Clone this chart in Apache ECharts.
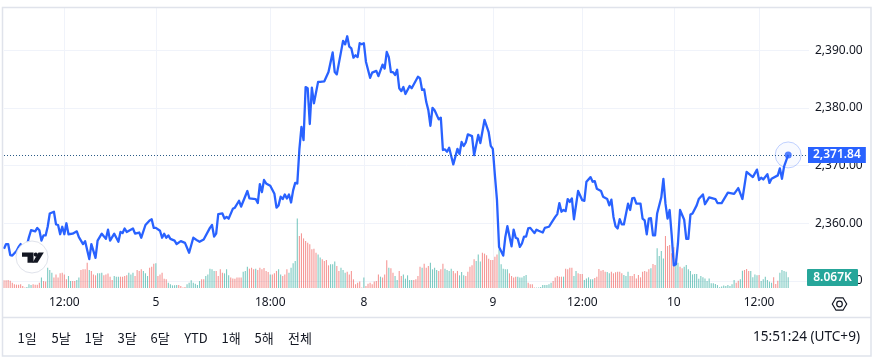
<!DOCTYPE html>
<html>
<head>
<meta charset="utf-8">
<style>
    html, body { margin: 0; padding: 0; background: #fff; }
    #chart { width: 877px; height: 362px; }
</style>
<script src="https://cdn.jsdelivr.net/npm/echarts@6/dist/echarts.min.js"></script>
</head>
<body>
<div id="chart"></div>
<script>
// price line: bar number + price at each visible turn of the line
const priceBars = [0,1,2,3,4,6,7,8,10,11,12,13,15,16,17,18,19,20,21,22,24,25,26,27,28,29,30,31,33,35,36,38,39,41,42,44,45,47,49,50,51,53,55,56,57,58,59,62,63,65,66,68,70,71,72,73,75,76,77,78,79,80,82,83,85,87,89,91,93,94,96,99,100,101,102,103,105,106,107,108,110,111,113,114,117,118,121,122,123,124,125,126,128,130,131,132,133,134,135,136,137,138,139,140,141,142,143,144,145,146,147,148,149,151,152,154,156,158,159,160,163,164,165,166,167,168,169,170,171,172,173,174,176,177,179,180,182,183,184,185,186,187,188,189,190,191,192,193,195,196,199,200,201,202,203,204,205,206,207,209,210,211,212,213,214,216,218,219,220,221,222,223,225,226,228,229,231,233,234,235,236,237,238,240,241,242,244,245,246,247,248,249,250,251,252,253,255,256,257,259,260,262,263,265,266,267,268,269,270,271,272,273,274,276,278,279,280,282,283,284,285,287,288,290,291,292,293,294,295,296,297,298,300,301,302,303,304,306,307,308,309,310,311,312,313,314,316,317,318,319,320,321,322,323,324,325,327,328,329,330,331,333,334,336,337,339,342,343,345,348,351,353,355,357,360,362,363,364,365,367,368,369,372,373,374,375,377];
const priceValues = [2355.6,2356.4,2356.4,2354.5,2354.4,2355.2,2355.9,2356.4,2355,2356.2,2357.6,2358.8,2358.6,2359.2,2358.8,2357,2357.9,2357.9,2359.4,2361.7,2362,2359.8,2359.7,2358.1,2359.4,2358.1,2360,2358.1,2358.2,2358.6,2357.6,2356.4,2356.9,2353.8,2356.4,2354,2357,2358.2,2357.3,2358.9,2357,2358.2,2356.8,2358.5,2358.3,2359.1,2358.5,2359.1,2358.2,2358.4,2357.5,2359.7,2360.5,2360.7,2359.2,2359.2,2358.7,2357.5,2358.2,2357.5,2357.9,2357.3,2357,2356.4,2356.9,2356.6,2354.9,2357.5,2357,2356.8,2357.2,2359.2,2359.7,2357.7,2358.2,2361.6,2361.7,2360.8,2361.1,2360.8,2362.5,2362.7,2363.9,2362.9,2365.6,2364.3,2364.2,2363.5,2366.8,2365.4,2367.5,2366.9,2366.5,2365.1,2362.7,2363.1,2364.6,2364.2,2365,2364.3,2365,2363.6,2365.7,2367,2366.9,2372.8,2376.7,2374.4,2383.6,2383.4,2377.2,2383.5,2380.8,2384.5,2384.5,2384.6,2386.2,2389.6,2386.2,2385.8,2391.6,2391,2392.4,2390.6,2390.3,2388.7,2389.1,2388.8,2391.2,2391,2391.2,2388,2385.2,2386.1,2386.4,2385.5,2387.5,2386.8,2389.7,2388.8,2386.2,2386.2,2385.7,2386.6,2383.4,2382.9,2383.6,2382.4,2383.8,2383.4,2385.4,2385.1,2383.1,2383.2,2381,2379.6,2376.9,2380,2379.6,2378,2378.3,2372.7,2372.8,2372.4,2373.1,2370.2,2372.9,2372,2374.1,2373.4,2374,2375.4,2375.1,2371.8,2375.3,2373.9,2377.9,2375.8,2373.4,2372.9,2368.3,2364,2355.9,2354.4,2357.6,2359.5,2356,2358.9,2357.5,2357.3,2355.9,2356.5,2357.7,2357.7,2359.1,2359.2,2358.3,2358.9,2358.7,2358.4,2359.2,2359.4,2360,2361.1,2361.6,2363.5,2362,2362.3,2362.1,2364.2,2363.7,2364.3,2360.7,2365.6,2364,2363.9,2367.2,2368,2367.2,2367.3,2366,2365.6,2364.6,2364.2,2363.1,2364.1,2361.1,2359.5,2359.1,2360.7,2359.8,2359.8,2363.4,2362.3,2364.3,2364.4,2363.4,2363.4,2360.8,2360.5,2358.1,2360.8,2360.9,2357.9,2357.9,2361.7,2364.5,2367.7,2363.4,2360.8,2362.3,2357.9,2352.7,2352.9,2356.5,2362.3,2360.6,2357.3,2357.3,2361.5,2361.7,2363.1,2364.2,2365,2363.3,2364.5,2364.2,2363.5,2363.5,2365.3,2365.1,2366.1,2364.2,2368.9,2368,2369.3,2367.5,2367.9,2367.6,2368.5,2367,2367.7,2368.3,2369.5,2367.7,2369.8,2371.84];

// volume per bar, in thousands
const volumes = [5.8,5.8,6,5.5,4,2.8,2.5,2.5,2.8,1.5,0.3,0.8,2.8,2.2,2.8,2.5,2.5,4,7.8,5.2,4.8,
    15.2,13.5,11.5,7.8,10.2,7.8,11,11.5,10.2,6.5,9,5.2,5.2,5.2,6,7.8,13.5,14,14,19,13.5,12.8,10.2,9.5,11,11,11.5,9.5,10.2,10.8,8.5,6,9,8.5,8.5,8.5,8.5,9,9.5,11.5,10.2,11.5,9,13.5,12.8,14,12.8,11,9,15.2,16,18.2,18.5,9,10.2,11.5,7,6.5,4,2.8,2,2,2.2,2.2,1.5,0.3,0.8,2.8,4,5.8,4,3.2,2.2,5.2,6.5,6.5,9,10.2,14.5,14,12.8,12.8,9,14,11.5,11,14,9.5,7.8,7.2,7,7.8,7.8,7.8,12.2,12.8,16,14.5,15.2,14,14.5,13.5,15.2,14,15,12.8,12,10.2,10.2,11,12.8,14,10.2,9,10.2,14,11.5,15.2,18.5,20.2,52.2,
    39,41,37.2,35.2,34,32.8,29,29.5,26.5,25.2,22.8,21.5,20.2,21,17,17.8,17.8,19.8,16.5,12.8,15.2,13.5,11.5,12.2,10.2,12.8,6.5,2.8,4,4.8,0.3,7.8,1.5,3.2,4,2.8,4.8,5.2,10.2,8.5,7.8,10.2,20.8,15.2,14.8,11.5,9,6,12.8,9,10.2,7,9.5,6,6,6,6.5,9,16,15.2,18.2,15.2,16.5,19,14,15.2,13.5,12.8,14,18.2,14.5,13.5,12.8,14.5,12.8,11,12.8,9.5,12,9.5,9,12.2,16,17,21.5,20.2,25.2,19.8,26.5,25.8,24.5,22,21,21,23.5,25.2,29,17.8,14.5,14,14,11,9,7.8,8.5,8.5,7.8,7.8,9,9.8,4,2.8,2.8,0.3,0.3,0.3,0.8,2.2,2.2,2.2,2.8,4,5.2,7.8,9,8.5,8.5,8.5,14.5,14,15.2,15.2,9,12.8,
    11,10.5,10.5,6,7.2,8,6.5,6.5,7.5,8.5,14.2,13,13.5,12.2,12,11,12.2,11,11.8,12.2,12.2,11,9.8,9,12.2,9,9,10.5,7.2,9.8,8,12.2,12.8,12.2,14,14.8,18,17.2,29.8,24,27.8,22.2,39,31.5,32.2,26,30.5,22.2,19,16,14.8,16,17.2,14,12.8,10.2,10.5,10.5,7,9,8,7.2,5.2,7.2,3.5,3.5,3,2.2,0.5,1.2,1.8,1.5,2.2,1.5,2.8,6,4,5.5,6.5,13,13.5,14.2,12.8,12.8,8,10.2,9.5,9.8,5.2,6.5,8.5,6,4.8,4,8,3,5.5,11.5,13.5,12.8,12.2,8.067];
// lengths of the alternating red / green runs of volume bars, starting with red
const volumeRuns = [11,3,4,1,2,3,7,2,2,2,4,1,3,3,5,3,4,3,4,3,3,1,5,5,4,7,2,5,4,3,6,3,3,1,6,1,3,2,3,5,
    9,2,4,3,2,3,8,1,7,1,3,1,2,2,2,5,4,1,3,4,3,4,3,3,5,3,8,5,4,5,4,8,5,1,4,2,
    3,5,6,2,6,3,10,1,2,4,5,2,2,25,2,2,3,4,1,6,3,3];

const tickBars = [29, 73, 128, 173, 235, 278, 322, 363];
const tickLabels = ['12:00', '5', '18:00', '8', '9', '12:00', '10', '12:00'];
const priceTicks = [2350, 2360, 2370, 2380, 2390];
const rangeLabels = ['1일', '5날', '1달', '3달', '6달', 'YTD', '1해', '5해', '전체'];
const rangeCenters = [27, 61, 94, 127, 160, 196, 231, 264, 300];
const lastPrice = priceValues[priceValues.length - 1];
const lastBar = priceBars[priceBars.length - 1];
const lastVolumeLabel = '8.067K';
const clockLabel = '15:51:24 (UTC+9)';
const slotCount = 388;

const BLUE = '#2962ff';
const GRID = '#f0f3fa';
const FRAME = '#e0e3eb';
const INK = '#131722';
const FONT = '"Noto Sans", sans-serif';
const KR_FONT = '"Noto Sans CJK KR", "Noto Sans", sans-serif';

const categories = [];
const tickNames = {};
tickBars.forEach((b, i) => { tickNames[b] = tickLabels[i]; });
for (let i = 0; i < slotCount; i++) categories.push(tickNames[i] || '');
const isTick = (i, name) => name !== '';

const barColors = [];
volumeRuns.forEach((run, r) => {
    for (let k = 0; k < run; k++) {
        barColors.push(r % 2 === 0 ? 'rgba(239,83,80,0.6)' : 'rgba(38,166,154,0.6)');
    }
});

const volumeData = volumes.map((v, i) => ({
    value: v,
    itemStyle: { color: barColors[i] || 'rgba(38,166,154,0.6)' }
}));

const myChart = echarts.init(document.getElementById('chart'), null, { renderer: 'canvas' });

const option = {
    animation: false,
    backgroundColor: '#fff',
    grid: [
        { left: 4, width: 805, top: 8, height: 273 },
        { left: 4, width: 805, top: 8, height: 280 }
    ],
    xAxis: [
        {
            gridIndex: 0, type: 'category', data: categories, boundaryGap: false,
            axisLine: { show: false }, axisTick: { show: false },
            axisLabel: { show: false }, splitLine: { show: false }
        },
        {
            gridIndex: 1, type: 'category', data: categories, boundaryGap: false,
            axisLine: { show: false }, axisTick: { show: false },
            axisLabel: { interval: isTick, color: INK, fontFamily: FONT, fontSize: 12, margin: 9 },
            splitLine: { show: true, interval: isTick, lineStyle: { color: GRID, width: 1 } }
        }
    ],
    yAxis: [
        {
            gridIndex: 0, type: 'value', position: 'right',
            min: priceTicks[0], max: 2397.3, interval: 10,
            axisLine: { show: false }, axisTick: { show: false },
            axisLabel: {
                showMaxLabel: false, margin: 6, color: INK, fontFamily: FONT, fontSize: 12, align: 'left',
                formatter: v => v.toLocaleString('en-US', { minimumFractionDigits: 2, maximumFractionDigits: 2 })
            },
            splitLine: { show: true, showMaxLine: false, lineStyle: { color: GRID, width: 1 } }
        },
        {
            gridIndex: 1, type: 'value', min: 0, max: 210, show: false,
            splitLine: { show: false }
        }
    ],
    series: [
        {
            name: 'Volume', type: 'bar', xAxisIndex: 1, yAxisIndex: 1,
            data: volumeData, barWidth: 1.1, z: 1
        },
        {
            name: 'Price', type: 'line', xAxisIndex: 0, yAxisIndex: 0,
            data: priceBars.map((b, i) => [b, priceValues[i]]),
            showSymbol: false, symbol: 'none', z: 3,
            lineStyle: { color: BLUE, width: 2.3, join: 'round' },
            markLine: {
                silent: true, symbol: 'none', animation: false,
                lineStyle: { color: '#2a5a86', type: [1, 2], width: 1 },
                label: {
                    position: 'end', distance: -1, color: '#fff',
                    backgroundColor: BLUE, fontFamily: FONT, fontSize: 12, fontWeight: 600,
                    padding: [2, 5, 2, 5],
                    formatter: () => lastPrice.toFixed(2).replace(/^(\d)(\d{3})/, '$1,$2')
                },
                data: [{ yAxis: lastPrice }]
            }
        },
        {
            name: 'Last halo', type: 'scatter', xAxisIndex: 0, yAxisIndex: 0,
            data: [[lastBar, lastPrice]], symbolSize: 26, z: 4, silent: true,
            itemStyle: { color: 'rgba(41,98,255,0.04)', borderColor: 'rgba(41,98,255,0.35)', borderWidth: 1 }
        },
        {
            name: 'Last point', type: 'scatter', xAxisIndex: 0, yAxisIndex: 0,
            data: [[lastBar, lastPrice]], symbolSize: 7, z: 5, silent: true,
            itemStyle: { color: BLUE }
        }
    ],
    graphic: [
        // frame and the toolbar divider
        { type: 'rect', z: 50, shape: { x: 2.5, y: 7.5, width: 868.5, height: 348.5 }, style: { fill: 'none', stroke: FRAME, lineWidth: 1.5 } },
        { type: 'line', z: 50, shape: { x1: 3, y1: 317.5, x2: 871, y2: 317.5 }, style: { stroke: FRAME, lineWidth: 1.5 } },
        // volume badge
        { type: 'rect', z: 60, shape: { x: 807, y: 269, width: 51, height: 17, r: 1 }, style: { fill: '#26a69a' } },
        { type: 'text', z: 61, style: { x: 832.5, y: 277.5, text: lastVolumeLabel, fill: '#fff', font: '600 12px ' + FONT, textAlign: 'center', textVerticalAlign: 'middle' } },
        // tradingview badge
        { type: 'circle', z: 60, shape: { cx: 32, cy: 257, r: 16 }, style: { fill: '#fff', stroke: FRAME, lineWidth: 1 } },
        { type: 'polygon', z: 61, shape: { points: [[22, 252.5], [33.5, 252.5], [33.5, 262.8], [27.5, 262.8], [27.5, 256.7], [22, 256.7]] }, style: { fill: INK } },
        { type: 'circle', z: 61, shape: { cx: 35.8, cy: 254.6, r: 2.1 }, style: { fill: INK } },
        { type: 'polygon', z: 61, shape: { points: [[38.5, 252.5], [43.8, 252.5], [37.5, 262.8], [32.5, 262.8]] }, style: { fill: INK } },
        // settings icon
        { type: 'polygon', z: 61, shape: { points: [[832.3, 304], [836, 297.8], [843, 297.8], [846.7, 304], [843, 310.2], [836, 310.2]] }, style: { fill: 'none', stroke: INK, lineWidth: 1.2 } },
        { type: 'circle', z: 61, shape: { cx: 839.5, cy: 304, r: 2.8 }, style: { fill: 'none', stroke: INK, lineWidth: 1.2 } },
        // bottom row
        { type: 'text', z: 61, style: { x: 860, y: 337, text: clockLabel, fill: INK, font: '13.6px ' + FONT, textAlign: 'right', textVerticalAlign: 'middle' } }
    ].concat(rangeLabels.map((t, i) => ({
        type: 'text', z: 61,
        style: { x: rangeCenters[i], y: 338, text: t, fill: INK, font: '13px ' + KR_FONT, textAlign: 'center', textVerticalAlign: 'middle' }
    })))
};

myChart.setOption(option);
</script>
</body>
</html>
